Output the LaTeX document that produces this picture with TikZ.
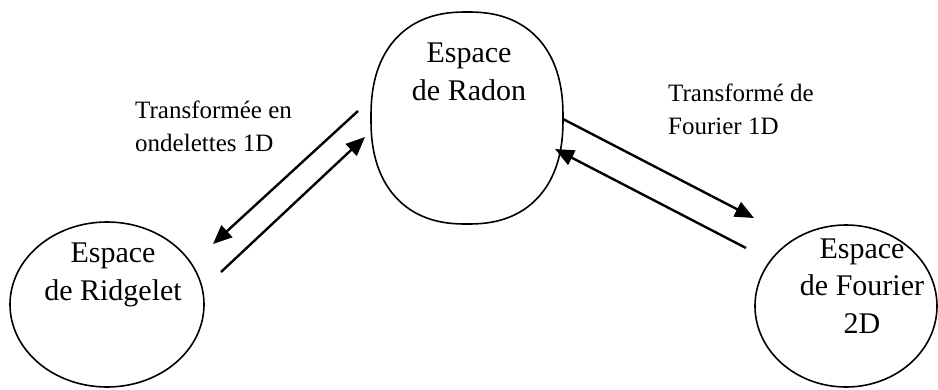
\documentclass[tikz,border=0pt]{standalone}
\usepackage{fontspec}
\setmainfont{Liberation Serif}
\usetikzlibrary{shapes.geometric,arrows.meta}
\begin{document}
\begin{tikzpicture}[x=1pt,y=-1pt,
  space/.style={draw,ellipse,line width=1.6pt,inner sep=0pt},
  spacetext/.style={align=center,inner sep=0pt,anchor=base,font=\fontsize{30}{37.5}\selectfont},
  labeltext/.style={align=left,inner sep=0pt,anchor=base west,font=\fontsize{25}{33}\selectfont},
  link/.style={line width=2.4pt,-{Triangle[length=19pt,width=16pt]}}]
\useasboundingbox (0,0) rectangle (938,389);

% the three spaces
\node[space,minimum width=194pt,minimum height=165pt] (ridgelet) at (107,304.5) {};
% Radon space: a slightly squared-off oval
\coordinate (radon) at (467,118);
\draw[line width=1.6pt] plot[domain=0.5:360.5,samples=121,smooth cycle]
  ({467+96*sign(cos(\x))*abs(cos(\x))^(0.85)},{118+106*sign(sin(\x))*abs(sin(\x))^(0.85)});
\node[space,minimum width=182pt,minimum height=162pt] (fourier) at (846,306) {};

% captions, placed by the baseline of their last line
\node[spacetext] (ridgelettxt) at (113,300) {Espace\\de Ridgelet};
\node[spacetext] (radontxt) at (469,100) {Espace\\de Radon};
\node[spacetext] (fouriertxt) at (862,333) {Espace\\de Fourier\\2D};

% transform labels
\node[labeltext] (wavelet) at (135,151) {Transformée en\\ondelettes 1D};
\node[labeltext] (ft) at (668,134) {Transformé de\\Fourier 1D};

% arrow end points
\coordinate (a1s) at (358,111);
\coordinate (a1e) at (213,244);
\coordinate (a2s) at (221,272);
\coordinate (a2e) at (365,137);
\coordinate (a3s) at (563,119);
\coordinate (a3e) at (754,218);
\coordinate (a4s) at (746,248);
\coordinate (a4e) at (555,149);

\draw[link] (a1s) -- (a1e);
\draw[link] (a2s) -- (a2e);
\draw[link] (a3s) -- (a3e);
\draw[link] (a4s) -- (a4e);
\end{tikzpicture}
\end{document}
